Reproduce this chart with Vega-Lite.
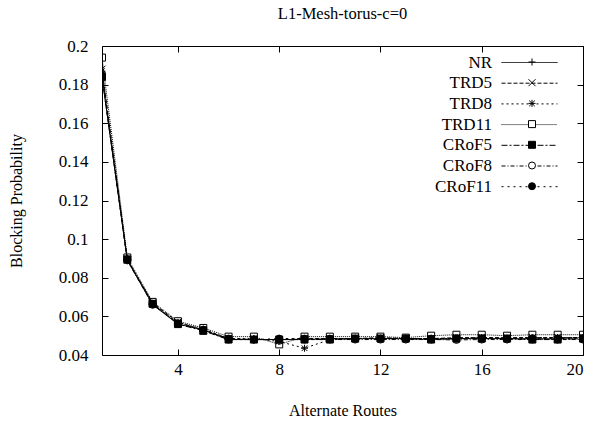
{
  "$schema": "https://vega.github.io/schema/vega-lite/v6.json",
  "width": 481,
  "height": 309,
  "autosize": "none",
  "padding": {"left": 102, "top": 46, "right": 11, "bottom": 69},
  "background": "white",
  "config": {
    "font": "Liberation Serif, serif",
    "view": {"stroke": "black", "strokeWidth": 1},
    "axis": {"grid": false, "domainColor": "black", "tickColor": "black", "labelColor": "black", "titleColor": "black", "labelFont": "Liberation Serif, serif", "titleFont": "Liberation Serif, serif", "labelFontSize": 17, "titleFontSize": 16, "titleFontWeight": "normal", "tickSize": -6, "tickWidth": 1, "domainWidth": 1},
    "legend": {"labelFont": "Liberation Serif, serif", "titleFont": "Liberation Serif, serif", "labelFontSize": 17, "labelColor": "black", "padding": 0}
  },
  "title": {"text": "L1-Mesh-torus-c=0", "font": "Liberation Serif, serif", "fontSize": 16.5, "fontWeight": "normal", "color": "black", "offset": 15, "anchor": "middle"},
  "data": {"values": [
    {"routes":1,"series":"NR","prob":0.184},{"routes":2,"series":"NR","prob":0.089},{"routes":3,"series":"NR","prob":0.066},{"routes":4,"series":"NR","prob":0.056},{"routes":5,"series":"NR","prob":0.053},{"routes":6,"series":"NR","prob":0.048},{"routes":7,"series":"NR","prob":0.048},{"routes":8,"series":"NR","prob":0.048},{"routes":9,"series":"NR","prob":0.048},{"routes":10,"series":"NR","prob":0.0485},{"routes":11,"series":"NR","prob":0.0485},{"routes":12,"series":"NR","prob":0.0485},{"routes":13,"series":"NR","prob":0.0485},{"routes":14,"series":"NR","prob":0.048},{"routes":15,"series":"NR","prob":0.0485},{"routes":16,"series":"NR","prob":0.0485},{"routes":17,"series":"NR","prob":0.0485},{"routes":18,"series":"NR","prob":0.0485},{"routes":19,"series":"NR","prob":0.0485},{"routes":20,"series":"NR","prob":0.049},
    {"routes":1,"series":"TRD5","prob":0.188},{"routes":2,"series":"TRD5","prob":0.089},{"routes":3,"series":"TRD5","prob":0.067},{"routes":4,"series":"TRD5","prob":0.057},{"routes":5,"series":"TRD5","prob":0.053},{"routes":6,"series":"TRD5","prob":0.0485},{"routes":7,"series":"TRD5","prob":0.048},{"routes":8,"series":"TRD5","prob":0.048},{"routes":9,"series":"TRD5","prob":0.0485},{"routes":10,"series":"TRD5","prob":0.0485},{"routes":11,"series":"TRD5","prob":0.0485},{"routes":12,"series":"TRD5","prob":0.049},{"routes":13,"series":"TRD5","prob":0.0485},{"routes":14,"series":"TRD5","prob":0.0485},{"routes":15,"series":"TRD5","prob":0.049},{"routes":16,"series":"TRD5","prob":0.049},{"routes":17,"series":"TRD5","prob":0.049},{"routes":18,"series":"TRD5","prob":0.049},{"routes":19,"series":"TRD5","prob":0.049},{"routes":20,"series":"TRD5","prob":0.049},
    {"routes":1,"series":"TRD8","prob":0.187},{"routes":2,"series":"TRD8","prob":0.0895},{"routes":3,"series":"TRD8","prob":0.0665},{"routes":4,"series":"TRD8","prob":0.0565},{"routes":5,"series":"TRD8","prob":0.0535},{"routes":6,"series":"TRD8","prob":0.0485},{"routes":7,"series":"TRD8","prob":0.0485},{"routes":8,"series":"TRD8","prob":0.047},{"routes":9,"series":"TRD8","prob":0.0435},{"routes":10,"series":"TRD8","prob":0.048},{"routes":11,"series":"TRD8","prob":0.0485},{"routes":12,"series":"TRD8","prob":0.0485},{"routes":13,"series":"TRD8","prob":0.0485},{"routes":14,"series":"TRD8","prob":0.0485},{"routes":15,"series":"TRD8","prob":0.0485},{"routes":16,"series":"TRD8","prob":0.049},{"routes":17,"series":"TRD8","prob":0.0485},{"routes":18,"series":"TRD8","prob":0.049},{"routes":19,"series":"TRD8","prob":0.049},{"routes":20,"series":"TRD8","prob":0.049},
    {"routes":1,"series":"TRD11","prob":0.194},{"routes":2,"series":"TRD11","prob":0.0905},{"routes":3,"series":"TRD11","prob":0.0675},{"routes":4,"series":"TRD11","prob":0.0575},{"routes":5,"series":"TRD11","prob":0.054},{"routes":6,"series":"TRD11","prob":0.0495},{"routes":7,"series":"TRD11","prob":0.0495},{"routes":8,"series":"TRD11","prob":0.0455},{"routes":9,"series":"TRD11","prob":0.0495},{"routes":10,"series":"TRD11","prob":0.0495},{"routes":11,"series":"TRD11","prob":0.0495},{"routes":12,"series":"TRD11","prob":0.0495},{"routes":13,"series":"TRD11","prob":0.049},{"routes":14,"series":"TRD11","prob":0.05},{"routes":15,"series":"TRD11","prob":0.0505},{"routes":16,"series":"TRD11","prob":0.0505},{"routes":17,"series":"TRD11","prob":0.05},{"routes":18,"series":"TRD11","prob":0.0505},{"routes":19,"series":"TRD11","prob":0.0505},{"routes":20,"series":"TRD11","prob":0.0505},
    {"routes":1,"series":"CRoF5","prob":0.184},{"routes":2,"series":"CRoF5","prob":0.0895},{"routes":3,"series":"CRoF5","prob":0.0665},{"routes":4,"series":"CRoF5","prob":0.056},{"routes":5,"series":"CRoF5","prob":0.0525},{"routes":6,"series":"CRoF5","prob":0.048},{"routes":7,"series":"CRoF5","prob":0.048},{"routes":8,"series":"CRoF5","prob":0.048},{"routes":9,"series":"CRoF5","prob":0.048},{"routes":10,"series":"CRoF5","prob":0.048},{"routes":11,"series":"CRoF5","prob":0.0485},{"routes":12,"series":"CRoF5","prob":0.0485},{"routes":13,"series":"CRoF5","prob":0.0485},{"routes":14,"series":"CRoF5","prob":0.048},{"routes":15,"series":"CRoF5","prob":0.0485},{"routes":16,"series":"CRoF5","prob":0.0485},{"routes":17,"series":"CRoF5","prob":0.0485},{"routes":18,"series":"CRoF5","prob":0.048},{"routes":19,"series":"CRoF5","prob":0.048},{"routes":20,"series":"CRoF5","prob":0.0485},
    {"routes":1,"series":"CRoF8","prob":0.185},{"routes":2,"series":"CRoF8","prob":0.089},{"routes":3,"series":"CRoF8","prob":0.066},{"routes":4,"series":"CRoF8","prob":0.0565},{"routes":5,"series":"CRoF8","prob":0.053},{"routes":6,"series":"CRoF8","prob":0.048},{"routes":7,"series":"CRoF8","prob":0.048},{"routes":8,"series":"CRoF8","prob":0.048},{"routes":9,"series":"CRoF8","prob":0.048},{"routes":10,"series":"CRoF8","prob":0.048},{"routes":11,"series":"CRoF8","prob":0.048},{"routes":12,"series":"CRoF8","prob":0.048},{"routes":13,"series":"CRoF8","prob":0.048},{"routes":14,"series":"CRoF8","prob":0.048},{"routes":15,"series":"CRoF8","prob":0.0478},{"routes":16,"series":"CRoF8","prob":0.048},{"routes":17,"series":"CRoF8","prob":0.048},{"routes":18,"series":"CRoF8","prob":0.048},{"routes":19,"series":"CRoF8","prob":0.048},{"routes":20,"series":"CRoF8","prob":0.048},
    {"routes":1,"series":"CRoF11","prob":0.184},{"routes":2,"series":"CRoF11","prob":0.0895},{"routes":3,"series":"CRoF11","prob":0.0665},{"routes":4,"series":"CRoF11","prob":0.056},{"routes":5,"series":"CRoF11","prob":0.053},{"routes":6,"series":"CRoF11","prob":0.0485},{"routes":7,"series":"CRoF11","prob":0.048},{"routes":8,"series":"CRoF11","prob":0.0485},{"routes":9,"series":"CRoF11","prob":0.0485},{"routes":10,"series":"CRoF11","prob":0.0485},{"routes":11,"series":"CRoF11","prob":0.0485},{"routes":12,"series":"CRoF11","prob":0.0485},{"routes":13,"series":"CRoF11","prob":0.0485},{"routes":14,"series":"CRoF11","prob":0.0485},{"routes":15,"series":"CRoF11","prob":0.0485},{"routes":16,"series":"CRoF11","prob":0.0485},{"routes":17,"series":"CRoF11","prob":0.0485},{"routes":18,"series":"CRoF11","prob":0.0485},{"routes":19,"series":"CRoF11","prob":0.0485},{"routes":20,"series":"CRoF11","prob":0.0485}
  ]},
  "layer": [
    {
      "mark": {"type": "line", "stroke": "black", "strokeWidth": 1, "clip": true},
      "encoding": {
        "x": {"field": "routes", "type": "quantitative", "scale": {"domain": [1, 20], "nice": false, "zero": false},
              "axis": {"orient": "bottom", "values": [4, 8, 12, 16, 20], "title": "Alternate Routes", "labelPadding": 12, "titlePadding": 25, "domain": false}},
        "y": {"field": "prob", "type": "quantitative", "scale": {"domain": [0.04, 0.2], "nice": false, "zero": false},
              "axis": {"orient": "left", "values": [0.04, 0.06, 0.08, 0.1, 0.12, 0.14, 0.16, 0.18, 0.2], "format": "~g", "title": "Blocking Probability", "labelPadding": 20, "titlePadding": 34, "domain": false}},
        "strokeDash": {"field": "series", "type": "nominal",
          "scale": {"domain": ["NR", "TRD5", "TRD8", "TRD11", "CRoF5", "CRoF8", "CRoF11"],
                    "range": [[1, 0], [4, 2], [2, 3], [1, 1], [6, 2, 2, 2], [4, 2, 1, 2], [2, 4]]},
          "legend": {"orient": "top-right", "offset": 7.5, "title": " ", "titleOrient": "right", "titlePadding": 16, "titleFontSize": 17,
                     "symbolType": "M-28,0H28", "symbolSize": 4, "symbolStrokeWidth": 1, "symbolStrokeColor": "black",
                     "labelAlign": "right", "labelOffset": -46, "rowPadding": 2.7}}
      }
    },
    {
      "mark": {"type": "point", "stroke": "black", "strokeWidth": 1, "size": 49, "opacity": 1, "clip": true},
      "encoding": {
        "x": {"field": "routes", "type": "quantitative", "axis": {"orient": "top", "values": [4, 8, 12, 16, 20], "labels": false, "title": null, "domain": false}},
        "y": {"field": "prob", "type": "quantitative", "axis": {"orient": "right", "values": [0.04, 0.06, 0.08, 0.1, 0.12, 0.14, 0.16, 0.18, 0.2], "labels": false, "title": null, "domain": false}},
        "shape": {"field": "series", "type": "nominal",
          "scale": {"domain": ["NR", "TRD5", "TRD8", "TRD11", "CRoF5", "CRoF8", "CRoF11"],
                    "range": ["M-1,0H1M0,-1V1", "M-1,-1L1,1M-1,1L1,-1", "M-1,0H1M0,-1V1M-0.8,-0.8L0.8,0.8M-0.8,0.8L0.8,-0.8", "square", "square", "circle", "circle"]},
          "legend": {"orient": "none", "legendX": 421.5, "legendY": 7.5, "title": null, "symbolSize": 49, "symbolStrokeColor": "black", "symbolStrokeWidth": 1, "labelExpr": "' '", "rowPadding": 2.7,
                     "encoding": {"symbols": {"fill": {"condition": {"test": "indexof(['CRoF5','CRoF11'], datum.value) >= 0", "value": "black"}, "value": "white"}, "stroke": {"value": "black"}, "opacity": {"value": 1}}}}},
        "fill": {"condition": {"test": "indexof(['CRoF5','CRoF11'], datum.series) >= 0", "value": "black"}, "value": "transparent"}
      }
    }
  ],
  "resolve": {"axis": {"x": "independent", "y": "independent"}}
}
